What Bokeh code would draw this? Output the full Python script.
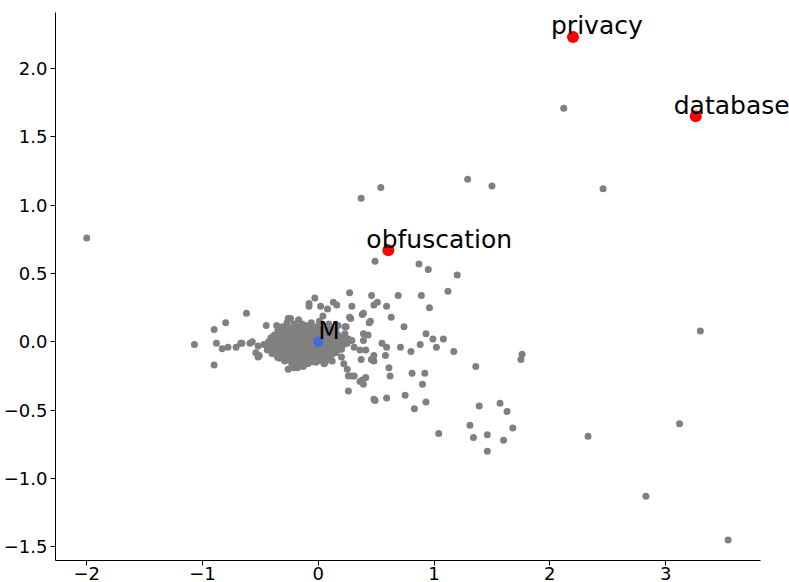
from bokeh.plotting import figure
from bokeh.models import ColumnDataSource, LabelSet, FixedTicker, Range1d
from bokeh.core.properties import value
from bokeh.embed import file_html
from bokeh.resources import INLINE

# ---- grey word points (x, y) ----
grey_x = [
    # dense core
    -0.31, -0.23, -0.16, -0.08, -0.01, 0.06, 0.12,
    -0.35, -0.28, -0.20, -0.13, -0.05, 0.02, 0.09, 0.15,
    -0.38, -0.32, -0.25, -0.17, -0.10, -0.03, 0.04, 0.11, 0.17,
    -0.41, -0.34, -0.27, -0.21, -0.14, -0.07, 0.00, 0.07, 0.13, 0.19,
    -0.43, -0.37, -0.30, -0.23, -0.16, -0.10, -0.04, 0.05, 0.10, 0.16, 0.21,
    -0.40, -0.33, -0.26, -0.19, -0.12, -0.06, 0.02, 0.08, 0.14, 0.19,
    -0.42, -0.35, -0.28, -0.22, -0.15, -0.08, -0.02, 0.05, 0.11, 0.17,
    -0.37, -0.30, -0.24, -0.17, -0.10, -0.04, 0.03, 0.09, 0.15,
    -0.33, -0.26, -0.19, -0.12, -0.06, 0.01, 0.07,
    -0.23, -0.16, -0.09, -0.02,
    -0.18, -0.13,
    # core fringe
    -0.36, -0.27, -0.21, -0.06, 0.01, 0.09, 0.17, -0.24, -0.17, -0.14, -0.11,
    -0.03, -0.08, -0.08, 0.02, 0.08, 0.13, 0.16, 0.04,
    -0.26, -0.21, -0.11, -0.03, 0.06, 0.12, 0.05,
    -0.45, -0.47, -0.52, -0.44, -0.54, -0.51, -0.52,
    -0.26, -0.17, 0.28, 0.24, 0.44,
    # left tail
    -1.07, -0.90, -0.90, -0.80, -0.62, -0.88, -0.83, -0.78, -0.71, -0.67, -0.66,
    -0.59, -0.57, -2.00,
    # right spread
    0.23, 0.26, 0.25, 0.31, 0.36, 0.41, 0.48, 0.46, 0.20, 0.22, 0.25, 0.26, 0.31,
    0.36, 0.39, 0.22, 0.29, 0.39,
    0.49, 0.87, 0.95, 1.20, 1.12, 0.27, 0.46, 0.69, 0.89, 0.29, 0.48, 0.51, 0.59,
    0.96, 0.39, 0.38, 0.63, 0.27, 0.45, 0.74, 0.23, 0.39, 0.43, 0.93, 0.99, 1.08,
    0.55, 0.59, 0.71, 0.80, 0.88, 1.02, 1.17, 1.76, 1.75, 0.58, 0.37, 0.46, 0.48,
    0.92, 0.81, 0.61, 0.62, 1.36, 0.29, 0.41, 0.90, 0.38, 0.26, 0.75, 0.93, 0.48,
    0.49, 0.59, 0.83, 1.39, 1.57, 1.63, 1.31, 1.34, 1.04, 1.46, 1.68, 1.60, 1.46,
    # far points
    0.37, 0.54, 1.29, 1.50, 2.12, 2.46, 3.30, 2.33, 3.12, 2.83, 3.54,
]
grey_y = [
    0.11, 0.10, 0.11, 0.10, 0.11, 0.10, 0.09,
    0.08, 0.07, 0.09, 0.08, 0.07, 0.08, 0.07, 0.08,
    0.05, 0.06, 0.05, 0.06, 0.05, 0.06, 0.05, 0.06, 0.05,
    0.03, 0.02, 0.03, 0.04, 0.03, 0.02, 0.03, 0.04, 0.02, 0.03,
    0.00, -0.01, 0.01, 0.00, -0.01, 0.01, 0.00, -0.01, 0.01, 0.00, 0.01,
    -0.03, -0.04, -0.02, -0.03, -0.04, -0.02, -0.03, -0.04, -0.02, -0.03,
    -0.06, -0.07, -0.05, -0.06, -0.07, -0.05, -0.06, -0.07, -0.05, -0.06,
    -0.09, -0.10, -0.08, -0.09, -0.10, -0.08, -0.09, -0.10, -0.08,
    -0.12, -0.13, -0.12, -0.13, -0.11, -0.12, -0.13,
    -0.16, -0.15, -0.16, -0.15,
    -0.19, -0.18,
    0.12, 0.14, 0.13, 0.14, 0.15, 0.13, 0.12, 0.17, 0.16, 0.13, 0.12,
    0.32, 0.28, 0.26, 0.26, 0.24, 0.29, 0.27, 0.19,
    -0.20, -0.19, -0.15, -0.12, -0.15, -0.14, -0.16,
    0.12, -0.02, -0.03, -0.06, -0.08, -0.10, -0.11,
    0.17, 0.16, 0.17, 0.11, 0.14,
    -0.02, -0.17, 0.09, 0.14, 0.21, -0.01, -0.05, -0.04, -0.04, -0.01, -0.01,
    -0.01, 0.00, 0.76,
    0.06, 0.02, -0.01, -0.04, -0.06, -0.06, -0.10, -0.13, -0.11, -0.16, -0.20, -0.25, -0.25,
    -0.29, -0.31, 0.01, 0.01, 0.01,
    0.59, 0.57, 0.53, 0.49, 0.37, 0.36, 0.34, 0.34, 0.34, 0.26, 0.27, 0.29, 0.26,
    0.25, 0.21, 0.20, 0.18, 0.18, 0.15, 0.11, 0.11, 0.06, 0.05, 0.06, 0.02, 0.02,
    -0.01, -0.04, -0.04, -0.07, -0.02, -0.04, -0.07, -0.09, -0.13, -0.10, -0.13, -0.13, -0.14,
    -0.23, -0.23, -0.19, -0.25, -0.18, -0.25, -0.26, -0.31, -0.28, -0.36, -0.39, -0.44, -0.42,
    -0.43, -0.41, -0.49, -0.47, -0.45, -0.51, -0.61, -0.70, -0.67, -0.68, -0.63, -0.72, -0.80,
    1.05, 1.13, 1.19, 1.14, 1.71, 1.12, 0.08, -0.69, -0.60, -1.13, -1.45,
]

# extra points packed in the dense core
core_fill_x = [
    -0.27, -0.19, -0.12, -0.04, 0.03, 0.09,
    -0.31, -0.24, -0.16, -0.09, -0.02, 0.06, 0.13,
    -0.37, -0.30, -0.23, -0.17, -0.11, -0.04, 0.04, 0.10, 0.16,
    -0.40, -0.33, -0.27, -0.20, -0.13, -0.07, 0.02, 0.08, 0.13, 0.19,
    -0.44, -0.36, -0.29, -0.22, -0.15, -0.09, -0.01, 0.05, 0.11, 0.17, 0.22,
    -0.38, -0.31, -0.25, -0.18, -0.11, -0.05, 0.02, 0.08, 0.14, 0.20,
    -0.40, -0.33, -0.27, -0.20, -0.13, -0.07, 0.00, 0.06, 0.12,
    -0.35, -0.29, -0.22, -0.15, -0.09, -0.03, 0.04, 0.10,
    -0.29, -0.20, -0.13, -0.05, 0.03,
]
core_fill_y = [
    0.095, 0.10, 0.09, 0.095, 0.09, 0.10,
    0.065, 0.07, 0.06, 0.065, 0.07, 0.06, 0.065,
    0.035, 0.04, 0.03, 0.035, 0.04, 0.03, 0.035, 0.04, 0.03,
    0.005, 0.01, 0.00, 0.005, 0.01, 0.00, 0.005, 0.01, 0.00, 0.005,
    -0.025, -0.02, -0.03, -0.025, -0.02, -0.03, -0.025, -0.02, -0.03, -0.025, -0.02,
    -0.055, -0.05, -0.06, -0.055, -0.05, -0.06, -0.055, -0.05, -0.06, -0.055,
    -0.085, -0.08, -0.09, -0.085, -0.08, -0.09, -0.085, -0.08, -0.09,
    -0.115, -0.11, -0.12, -0.115, -0.11, -0.12, -0.115, -0.11,
    -0.14, -0.145, -0.14, -0.145, -0.14,
]

# ---- highlighted words ----
red_words = ["privacy", "database", "obfuscation"]
red_x = [2.20, 3.26, 0.605]
red_y = [2.23, 1.65, 0.67]

center_word = ["M"]
center_x = [0.0]
center_y = [0.0]

x_ticks = [-2, -1, 0, 1, 2, 3]
x_tick_labels = ["\u22122", "\u22121", "0", "1", "2", "3"]
y_ticks = [-1.5, -1.0, -0.5, 0.0, 0.5, 1.0, 1.5, 2.0]
y_tick_labels = ["\u22121.5", "\u22121.0", "\u22120.5", "0.0", "0.5", "1.0", "1.5", "2.0"]

FONT = "DejaVu Sans"
X_LO, X_HI = -2.27, 3.82   # extent of the drawn x spine

p = figure(width=789, height=582, output_backend="svg", toolbar_location=None,
           x_range=Range1d(X_LO, 4.07), y_range=Range1d(-1.60, 2.41),
           min_border_left=55, min_border_right=0, min_border_top=12, min_border_bottom=20)
p.outline_line_color = None
p.xgrid.visible = False
p.ygrid.visible = False
p.background_fill_color = "white"
p.border_fill_color = "white"

p.xaxis.ticker = FixedTicker(ticks=x_ticks)
p.yaxis.ticker = FixedTicker(ticks=y_ticks)
p.xaxis.bounds = (X_LO, X_HI)
p.xaxis.major_label_overrides = {t: l for t, l in zip(x_ticks, x_tick_labels)}
p.yaxis.major_label_overrides = {t: l for t, l in zip(y_ticks, y_tick_labels)}
for ax in (p.xaxis, p.yaxis):
    ax.axis_line_color = "black"
    ax.axis_line_width = 1
    ax.major_tick_line_color = "black"
    ax.major_tick_out = 5
    ax.major_tick_in = 0
    ax.minor_tick_line_color = None
    ax.major_label_text_font = FONT
    ax.major_label_text_font_size = "18px"
    ax.major_label_text_color = "black"
p.xaxis.major_label_standoff = 1
p.yaxis.major_label_standoff = 3

p.scatter(grey_x + core_fill_x, grey_y + core_fill_y, size=7, color="gray", line_color=None)

red_src = ColumnDataSource(dict(x=red_x, y=red_y, w=red_words,
                                ly=[v + 0.02 for v in red_y]))
p.scatter("x", "y", source=red_src, size=12, color="red", line_color=None)

c_src = ColumnDataSource(dict(x=center_x, y=center_y, w=center_word,
                              ly=[v + 0.02 for v in center_y]))
p.scatter("x", "y", source=c_src, size=10, color="royalblue", line_color=None)

p.add_layout(LabelSet(x="x", y="ly", text="w", source=red_src, x_offset=-22,
                      text_font=value(FONT), text_font_size=value("25px"),
                      text_color="black", text_baseline="alphabetic"))
p.add_layout(LabelSet(x="x", y="ly", text="w", source=c_src, x_offset=0,
                      text_font=value(FONT), text_font_size=value("25px"),
                      text_color="black", text_baseline="alphabetic"))

open("out.html", "w").write(file_html(p, INLINE))
